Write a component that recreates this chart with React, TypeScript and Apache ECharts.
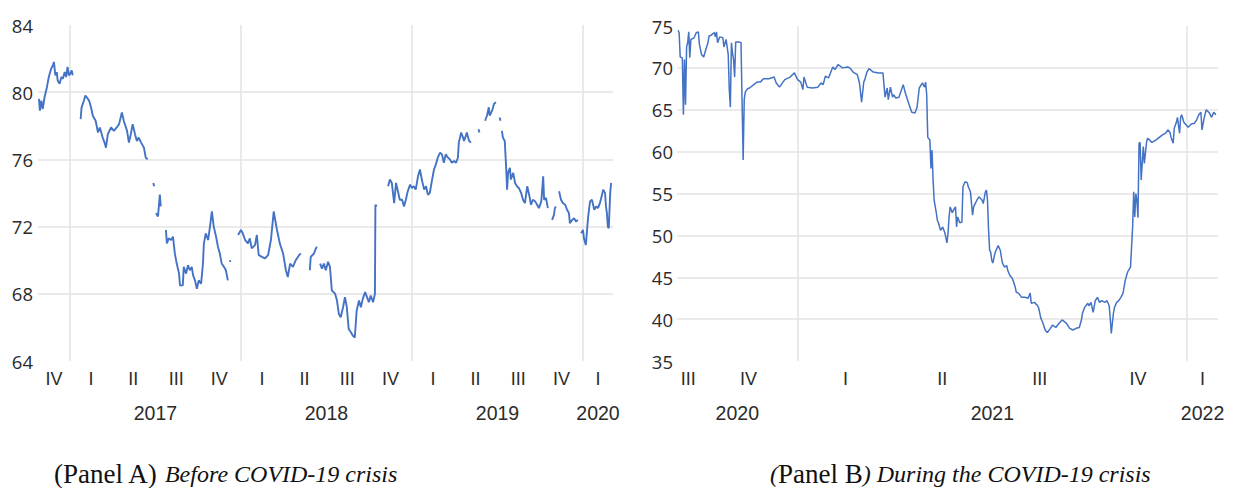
import React, { useEffect, useRef } from "react";
import * as echarts from "echarts";

// ---------- Panel A : before COVID-19 (segments of the daily line, gaps between them) ----------
const segA1: [string, number][] = [
  ["2016-10-27", 79.6], ["2016-10-29", 78.9], ["2016-11-01", 79.5], ["2016-11-04", 79.0], ["2016-11-08", 79.7],
  ["2016-11-13", 80.3], ["2016-11-17", 80.9], ["2016-11-22", 81.4], ["2016-11-26", 81.6], ["2016-11-28", 81.8],
  ["2016-12-01", 81.0], ["2016-12-04", 81.2], ["2016-12-06", 80.7], ["2016-12-10", 80.5], ["2016-12-14", 80.9],
  ["2016-12-17", 80.8], ["2016-12-21", 81.2], ["2016-12-24", 80.9], ["2016-12-27", 81.5], ["2016-12-30", 81.0],
  ["2017-01-02", 81.1], ["2017-01-05", 81.3], ["2017-01-07", 81.0],
];
const segA2: [string, number][] = [
  ["2017-01-24", 78.4], ["2017-01-26", 79.1], ["2017-01-31", 79.5], ["2017-02-03", 79.8], ["2017-02-06", 79.7],
  ["2017-02-11", 79.5], ["2017-02-15", 79.1], ["2017-02-19", 78.6], ["2017-02-25", 78.3], ["2017-03-02", 77.6],
  ["2017-03-06", 77.9], ["2017-03-12", 77.3], ["2017-03-16", 77.0], ["2017-03-19", 76.7], ["2017-03-23", 77.5],
  ["2017-03-30", 77.9], ["2017-04-05", 77.7], ["2017-04-11", 77.9], ["2017-04-16", 78.1], ["2017-04-22", 78.8],
  ["2017-04-26", 78.3], ["2017-05-03", 77.7], ["2017-05-07", 77.0], ["2017-05-11", 77.5], ["2017-05-15", 78.1],
  ["2017-05-20", 77.5], ["2017-05-24", 77.1], ["2017-05-28", 77.3], ["2017-06-02", 77.0], ["2017-06-08", 76.7],
  ["2017-06-12", 76.1], ["2017-06-16", 76.0],
];
const segA3: [string, number][] = [["2017-06-28", 74.6], ["2017-06-30", 74.4]];
const segA4: [string, number][] = [["2017-07-04", 72.8], ["2017-07-08", 72.6], ["2017-07-12", 73.9], ["2017-07-14", 73.2]];
const segA5: [string, number][] = [
  ["2017-07-25", 71.8], ["2017-07-27", 71.0], ["2017-07-31", 71.3], ["2017-08-05", 71.2], ["2017-08-09", 71.4],
  ["2017-08-13", 70.4], ["2017-08-17", 69.8], ["2017-08-22", 69.2], ["2017-08-24", 68.5], ["2017-08-30", 68.5],
  ["2017-09-01", 69.6], ["2017-09-06", 69.2], ["2017-09-10", 69.7], ["2017-09-14", 69.4], ["2017-09-18", 69.6],
  ["2017-09-21", 69.1], ["2017-09-25", 68.8], ["2017-09-29", 68.3], ["2017-10-03", 68.8], ["2017-10-08", 68.6],
  ["2017-10-12", 69.8], ["2017-10-14", 71.0], ["2017-10-18", 71.6], ["2017-10-23", 71.2], ["2017-10-27", 72.0],
  ["2017-10-31", 72.9], ["2017-11-04", 72.0], ["2017-11-09", 71.4], ["2017-11-13", 70.8], ["2017-11-17", 70.4],
  ["2017-11-21", 69.8], ["2017-11-26", 69.6], ["2017-11-30", 69.4], ["2017-12-04", 68.8],
];
const segA6: [string, number][] = [["2017-12-08", 69.9], ["2017-12-10", 70.0]];
const segA7: [string, number][] = [
  ["2017-12-26", 71.5], ["2018-01-01", 71.8], ["2018-01-05", 71.6], ["2018-01-10", 71.2], ["2018-01-16", 71.0],
  ["2018-01-20", 71.3], ["2018-01-24", 70.7], ["2018-01-31", 70.9], ["2018-02-04", 71.5], ["2018-02-08", 70.3],
  ["2018-02-15", 70.2], ["2018-02-21", 70.1], ["2018-02-28", 70.3], ["2018-03-06", 71.2], ["2018-03-12", 72.9],
  ["2018-03-19", 71.8], ["2018-03-25", 71.0], ["2018-04-01", 70.4], ["2018-04-07", 69.4], ["2018-04-11", 69.0],
  ["2018-04-16", 69.8], ["2018-04-22", 69.6], ["2018-04-28", 70.0], ["2018-05-05", 70.3], ["2018-05-09", 70.4],
];
const segA8: [string, number][] = [
  ["2018-05-28", 69.4], ["2018-05-30", 70.2], ["2018-06-06", 70.4], ["2018-06-10", 70.7], ["2018-06-12", 70.8],
];
const segA9: [string, number][] = [
  ["2018-06-19", 69.8], ["2018-06-23", 69.5], ["2018-06-27", 69.8], ["2018-07-01", 69.4], ["2018-07-06", 69.9],
  ["2018-07-10", 69.6], ["2018-07-14", 68.2], ["2018-07-21", 68.0], ["2018-07-25", 67.6], ["2018-07-29", 66.8],
  ["2018-08-02", 66.6], ["2018-08-07", 67.2], ["2018-08-11", 67.8], ["2018-08-15", 67.2], ["2018-08-19", 65.9],
  ["2018-08-24", 65.7], ["2018-08-28", 65.5], ["2018-09-01", 65.4], ["2018-09-05", 67.0], ["2018-09-10", 67.6],
  ["2018-09-14", 67.2], ["2018-09-18", 67.7], ["2018-09-23", 68.1], ["2018-09-27", 67.8], ["2018-10-01", 67.5],
  ["2018-10-05", 67.9], ["2018-10-10", 67.5], ["2018-10-14", 68.0], ["2018-10-15", 73.3], ["2018-10-18", 73.2],
];
const segA10: [string, number][] = [
  ["2018-11-11", 74.4], ["2018-11-15", 74.8], ["2018-11-19", 74.6], ["2018-11-24", 73.4], ["2018-11-28", 74.6],
  ["2018-12-02", 74.1], ["2018-12-06", 73.6], ["2018-12-11", 73.6], ["2018-12-15", 73.2], ["2018-12-19", 73.6],
  ["2018-12-23", 74.1], ["2018-12-28", 74.5], ["2019-01-01", 74.3], ["2019-01-05", 74.4], ["2019-01-09", 74.2],
  ["2019-01-14", 75.0], ["2019-01-18", 75.4], ["2019-01-22", 74.8], ["2019-01-27", 74.2], ["2019-01-31", 74.4],
  ["2019-02-04", 73.9], ["2019-02-08", 74.0], ["2019-02-13", 74.8], ["2019-02-17", 75.4], ["2019-02-21", 75.7],
  ["2019-02-25", 76.1], ["2019-03-02", 76.4], ["2019-03-06", 76.3], ["2019-03-10", 75.8], ["2019-03-14", 76.3],
  ["2019-03-19", 76.1], ["2019-03-23", 76.0], ["2019-03-27", 75.8], ["2019-04-01", 75.9], ["2019-04-05", 75.8],
  ["2019-04-09", 76.1], ["2019-04-11", 77.0], ["2019-04-16", 77.6], ["2019-04-20", 77.3], ["2019-04-22", 77.1],
  ["2019-04-26", 77.4], ["2019-04-28", 77.6], ["2019-05-03", 77.1], ["2019-05-07", 77.0],
];
const segA11: [string, number][] = [["2019-05-23", 77.8], ["2019-05-25", 77.6]];
const segA12: [string, number][] = [
  ["2019-06-06", 78.3], ["2019-06-10", 78.6], ["2019-06-14", 79.1], ["2019-06-16", 78.6], ["2019-06-21", 78.9],
  ["2019-06-25", 79.3], ["2019-06-29", 79.4],
];
const segA13: [string, number][] = [["2019-07-07", 78.5], ["2019-07-09", 78.3]];
const segA14: [string, number][] = [
  ["2019-07-12", 77.7], ["2019-07-14", 77.3], ["2019-07-18", 77.1], ["2019-07-21", 75.5], ["2019-07-23", 74.2],
  ["2019-07-25", 75.2], ["2019-07-29", 75.5], ["2019-07-31", 74.8], ["2019-08-05", 75.2], ["2019-08-09", 74.6],
  ["2019-08-13", 74.4], ["2019-08-17", 74.3], ["2019-08-22", 74.0], ["2019-08-26", 73.6], ["2019-08-30", 73.4],
  ["2019-09-04", 74.4], ["2019-09-08", 73.9], ["2019-09-12", 73.3], ["2019-09-16", 73.6], ["2019-09-21", 73.5],
  ["2019-09-25", 73.3], ["2019-09-29", 73.1], ["2019-10-04", 73.5], ["2019-10-08", 75.0], ["2019-10-10", 73.6],
  ["2019-10-14", 73.7], ["2019-10-18", 73.1],
];
const segA15: [string, number][] = [["2019-10-27", 72.4], ["2019-10-31", 72.7], ["2019-11-02", 73.1], ["2019-11-04", 73.2]];
const segA16: [string, number][] = [
  ["2019-11-11", 74.1], ["2019-11-15", 73.6], ["2019-11-19", 73.4], ["2019-11-24", 73.3], ["2019-11-28", 73.0],
  ["2019-12-02", 72.8], ["2019-12-04", 72.2], ["2019-12-09", 72.4], ["2019-12-13", 72.5], ["2019-12-17", 72.3],
  ["2019-12-21", 72.4],
];
const segA17: [string, number][] = [
  ["2019-12-28", 71.6], ["2020-01-01", 71.8], ["2020-01-03", 71.3], ["2020-01-07", 70.9], ["2020-01-12", 72.6],
  ["2020-01-16", 73.5], ["2020-01-20", 73.6], ["2020-01-25", 73.0], ["2020-01-29", 73.2], ["2020-02-02", 73.1],
  ["2020-02-06", 73.4], ["2020-02-08", 73.6], ["2020-02-13", 74.2], ["2020-02-17", 74.0], ["2020-02-19", 73.2],
  ["2020-02-21", 72.8], ["2020-02-23", 72.0], ["2020-02-25", 71.9], ["2020-02-28", 74.0], ["2020-03-01", 74.6],
];
// single isolated observations (drawn as small hollow markers)
const isolatedA: [string, number][] = [
  ["2017-06-21", 76.3], ["2017-06-25", 75.2], ["2017-12-15", 72.6], ["2018-11-04", 75.2],
  ["2019-05-11", 77.9], ["2019-05-28", 78.2], ["2019-07-04", 79.0],
];

// ---------- Panel B : during COVID-19 ----------
const ptsB2020: [string, number][] = [
  ["2020-09-11", 74.5], ["2020-09-12", 74.2], ["2020-09-13", 71.3], ["2020-09-15", 71.2], ["2020-09-16", 64.4],
  ["2020-09-17", 71.0], ["2020-09-18", 65.6], ["2020-09-19", 72.5], ["2020-09-20", 73.0], ["2020-09-21", 74.3],
  ["2020-09-22", 71.2], ["2020-09-23", 73.4], ["2020-09-25", 73.5], ["2020-09-26", 73.6], ["2020-09-28", 74.2],
  ["2020-09-30", 74.3], ["2020-10-01", 72.8], ["2020-10-03", 71.6], ["2020-10-05", 71.3], ["2020-10-07", 72.2],
  ["2020-10-09", 73.0], ["2020-10-10", 73.8], ["2020-10-12", 73.9], ["2020-10-15", 74.2], ["2020-10-16", 73.7],
  ["2020-10-17", 74.3], ["2020-10-18", 73.0], ["2020-10-20", 73.7], ["2020-10-23", 73.6], ["2020-10-24", 72.5],
  ["2020-10-26", 73.4], ["2020-10-28", 71.6], ["2020-10-29", 67.4], ["2020-10-30", 65.3], ["2020-10-31", 73.0],
  ["2020-11-01", 71.8], ["2020-11-02", 71.0], ["2020-11-03", 68.9], ["2020-11-04", 73.1], ["2020-11-05", 73.1],
  ["2020-11-07", 73.1], ["2020-11-09", 73.0], ["2020-11-10", 65.8], ["2020-11-11", 59.0], ["2020-11-12", 66.2],
  ["2020-11-13", 67.1], ["2020-11-15", 67.5], ["2020-11-17", 67.6], ["2020-11-21", 68.0], ["2020-11-24", 68.3],
  ["2020-11-27", 68.3], ["2020-11-30", 68.7], ["2020-12-05", 68.7], ["2020-12-10", 68.9], ["2020-12-12", 68.2],
  ["2020-12-15", 67.7], ["2020-12-20", 68.6], ["2020-12-25", 68.9], ["2020-12-29", 69.4],
];
const ptsB2021H1: [string, number][] = [
  ["2021-01-01", 68.6], ["2021-01-04", 68.3], ["2021-01-06", 67.4], ["2021-01-07", 68.9], ["2021-01-10", 67.7],
  ["2021-01-15", 67.6], ["2021-01-20", 67.7], ["2021-01-23", 68.2], ["2021-01-25", 68.0], ["2021-01-27", 69.0],
  ["2021-01-30", 68.8], ["2021-02-03", 70.1], ["2021-02-05", 69.8], ["2021-02-08", 70.4], ["2021-02-12", 70.0],
  ["2021-02-17", 70.1], ["2021-02-19", 70.0], ["2021-02-22", 69.5], ["2021-02-26", 69.2], ["2021-02-28", 68.2],
  ["2021-03-02", 65.9], ["2021-03-04", 68.3], ["2021-03-05", 68.6], ["2021-03-07", 69.5], ["2021-03-09", 69.9],
  ["2021-03-13", 69.5], ["2021-03-18", 69.4], ["2021-03-22", 69.4], ["2021-03-24", 66.5], ["2021-03-26", 67.6],
  ["2021-03-27", 66.2], ["2021-03-29", 67.7], ["2021-03-31", 66.5], ["2021-04-01", 66.8], ["2021-04-03", 66.4],
  ["2021-04-06", 66.5], ["2021-04-10", 68.0], ["2021-04-12", 67.0], ["2021-04-15", 65.8], ["2021-04-18", 64.7],
  ["2021-04-21", 64.6], ["2021-04-23", 65.3], ["2021-04-25", 67.6], ["2021-04-28", 68.2], ["2021-04-30", 67.7],
  ["2021-05-01", 68.3], ["2021-05-02", 66.8], ["2021-05-03", 61.7], ["2021-05-05", 61.4], ["2021-05-06", 58.0],
  ["2021-05-07", 60.2], ["2021-05-08", 56.6], ["2021-05-09", 54.2], ["2021-05-11", 52.7], ["2021-05-12", 51.8],
  ["2021-05-13", 51.5], ["2021-05-15", 50.6], ["2021-05-17", 51.0], ["2021-05-19", 50.3], ["2021-05-21", 49.1],
  ["2021-05-22", 50.3], ["2021-05-23", 52.2], ["2021-05-24", 53.4], ["2021-05-26", 52.7], ["2021-05-27", 53.0],
  ["2021-05-29", 53.4], ["2021-05-30", 51.0], ["2021-05-31", 52.2], ["2021-06-02", 51.5], ["2021-06-04", 51.6],
  ["2021-06-05", 55.8], ["2021-06-07", 56.4], ["2021-06-09", 56.3], ["2021-06-10", 55.8], ["2021-06-12", 55.2],
  ["2021-06-13", 53.8], ["2021-06-14", 52.4], ["2021-06-15", 53.4], ["2021-06-18", 54.2], ["2021-06-20", 54.6],
  ["2021-06-23", 54.2], ["2021-06-24", 53.8], ["2021-06-26", 55.2], ["2021-06-27", 55.4], ["2021-06-28", 54.2],
  ["2021-06-29", 50.6], ["2021-06-30", 48.2],
];
const ptsB2021H2: [string, number][] = [
  ["2021-07-01", 48.0], ["2021-07-02", 47.0], ["2021-07-03", 46.7], ["2021-07-05", 47.9], ["2021-07-07", 48.5],
  ["2021-07-08", 48.8], ["2021-07-10", 48.2], ["2021-07-11", 47.4], ["2021-07-12", 46.7], ["2021-07-14", 46.2],
  ["2021-07-16", 46.4], ["2021-07-17", 45.8], ["2021-07-19", 45.2], ["2021-07-21", 44.9], ["2021-07-22", 44.6],
  ["2021-07-24", 43.8], ["2021-07-25", 43.2], ["2021-07-27", 43.1], ["2021-07-30", 42.6], ["2021-08-02", 42.6],
  ["2021-08-05", 42.5], ["2021-08-07", 43.1], ["2021-08-08", 41.9], ["2021-08-11", 42.0], ["2021-08-14", 41.6],
  ["2021-08-15", 41.3], ["2021-08-17", 40.1], ["2021-08-19", 39.5], ["2021-08-21", 38.7], ["2021-08-23", 38.4],
  ["2021-08-26", 38.9], ["2021-08-28", 39.3], ["2021-08-31", 39.0], ["2021-09-03", 39.5], ["2021-09-06", 39.9],
  ["2021-09-10", 39.5], ["2021-09-13", 38.9], ["2021-09-16", 38.7], ["2021-09-19", 38.9], ["2021-09-22", 39.0],
  ["2021-09-24", 39.9], ["2021-09-25", 40.7], ["2021-09-27", 41.4], ["2021-09-30", 41.9], ["2021-10-01", 41.6],
  ["2021-10-03", 42.0], ["2021-10-05", 40.8], ["2021-10-07", 42.2], ["2021-10-09", 42.6], ["2021-10-11", 42.0],
  ["2021-10-13", 42.2], ["2021-10-16", 42.0], ["2021-10-18", 42.2], ["2021-10-20", 41.6], ["2021-10-21", 40.1],
  ["2021-10-22", 38.3], ["2021-10-24", 40.7], ["2021-10-25", 41.4], ["2021-10-27", 42.0], ["2021-10-29", 42.2],
  ["2021-10-31", 42.6], ["2021-11-02", 43.1], ["2021-11-04", 44.6], ["2021-11-06", 45.5], ["2021-11-07", 45.8],
  ["2021-11-09", 46.2], ["2021-11-10", 48.6], ["2021-11-11", 51.0], ["2021-11-12", 55.2], ["2021-11-13", 52.2],
  ["2021-11-14", 55.0], ["2021-11-15", 54.2], ["2021-11-16", 52.1], ["2021-11-17", 61.0], ["2021-11-18", 61.1],
  ["2021-11-19", 56.6], ["2021-11-21", 60.6], ["2021-11-22", 58.6], ["2021-11-24", 61.1], ["2021-11-25", 61.6],
  ["2021-11-27", 61.4], ["2021-11-29", 61.1], ["2021-12-03", 61.4], ["2021-12-06", 61.7], ["2021-12-09", 62.0],
  ["2021-12-12", 62.2], ["2021-12-14", 62.6], ["2021-12-16", 62.3], ["2021-12-17", 61.7], ["2021-12-19", 61.0],
  ["2021-12-20", 62.8], ["2021-12-22", 63.5], ["2021-12-23", 64.1], ["2021-12-25", 62.2], ["2021-12-26", 64.1],
  ["2021-12-27", 64.4], ["2021-12-29", 63.5], ["2021-12-31", 63.2],
];
const ptsB2022: [string, number][] = [
  ["2022-01-02", 62.9], ["2022-01-05", 63.3], ["2022-01-08", 63.4], ["2022-01-10", 63.8], ["2022-01-12", 64.4],
  ["2022-01-14", 64.7], ["2022-01-15", 62.6], ["2022-01-17", 64.0], ["2022-01-19", 65.0], ["2022-01-22", 64.6],
  ["2022-01-24", 64.1], ["2022-01-26", 64.7], ["2022-01-28", 64.4],
];

// ---------- axes ----------
const rangeA: [string, string] = ["2016-10-25", "2020-03-05"];
const rangeB: [string, string] = ["2020-09-10", "2022-01-30"];
const quarterNames = ["I", "II", "III", "IV"];
const yearLabelsA = ["2017", "2018", "2019", "2020"];
const yearLabelsB = ["2020", "2021", "2022"];
const yTicksA = { min: 64, max: 84, interval: 4 };
const yTicksB = { min: 35, max: 75, interval: 5 };
const captionA = { head: "(Panel A)", tail: "Before COVID-19 crisis" };
const captionB = { head: "Panel B", tail: ") During the COVID-19 crisis" };

const t = (d: string) => Date.parse(d);

function joinSegments(segs: [string, number][][]) {
  const out: any[] = [];
  segs.forEach((s, i) => {
    s.forEach(([d, v]) => out.push([t(d), v]));
    if (i < segs.length - 1) {
      const a = t(s[s.length - 1][0]);
      const b = t(segs[i + 1][0][0]);
      out.push([(a + b) / 2, "-"]);
    }
  });
  return out;
}

function quarterMarks(range: [string, string]) {
  const lo = t(range[0]);
  const hi = t(range[1]);
  const vals: number[] = [];
  const labels = new Map<number, string>();
  const y0 = new Date(lo).getUTCFullYear();
  const y1 = new Date(hi).getUTCFullYear();
  for (let y = y0; y <= y1; y++) {
    for (let q = 0; q < 4; q++) {
      const s = Date.UTC(y, q * 3, 1);
      const e = Date.UTC(q === 3 ? y + 1 : y, q === 3 ? 0 : q * 3 + 3, 1);
      const a = Math.max(s, lo);
      const b = Math.min(e, hi);
      if (b > a) {
        const m = (a + b) / 2;
        vals.push(m);
        labels.set(m, quarterNames[q]);
      }
    }
  }
  return { vals, labels };
}

function yearMarks(range: [string, string], names: string[]) {
  const lo = t(range[0]);
  const hi = t(range[1]);
  const vals: number[] = [];
  const labels = new Map<number, string>();
  const bounds: number[] = [];
  names.forEach((n) => {
    const y = Number(n);
    const s = Date.UTC(y, 0, 1);
    const e = Date.UTC(y + 1, 0, 1);
    const m = (Math.max(s, lo) + Math.min(e, hi)) / 2;
    vals.push(m);
    labels.set(m, n);
  });
  const y0 = new Date(lo).getUTCFullYear();
  const y1 = new Date(hi).getUTCFullYear();
  for (let y = y0 + 1; y <= y1; y++) bounds.push(Date.UTC(y, 0, 1));
  return { vals, labels, bounds };
}

const BLUE = "#4472c4";
const GRID_COLOR = "#e3e3e3";
const LABEL_COLOR = "#2b2b2b";

export default function App() {
  const ref = useRef<HTMLDivElement>(null);

  useEffect(() => {
    if (!ref.current) return;
    const chart = echarts.init(ref.current, undefined, { renderer: "svg" });

    const qA = quarterMarks(rangeA);
    const qB = quarterMarks(rangeB);
    const yA = yearMarks(rangeA, yearLabelsA);
    const yB = yearMarks(rangeB, yearLabelsB);

    const gridLine = { show: true, lineStyle: { color: GRID_COLOR, width: 1.5 } };

    const mkX = (grid: number, range: [string, string], q: any, y: any) => [
      {
        type: "value",
        gridIndex: grid,
        position: "bottom",
        min: t(range[0]),
        max: t(range[1]),
        axisLine: { show: false },
        axisTick: { show: false, customValues: y.bounds },
        splitLine: gridLine,
        axisLabel: {
          customValues: q.vals,
          formatter: (v: number) => q.labels.get(v) ?? "",
          fontFamily: "Liberation Sans",
          fontSize: 18,
          color: LABEL_COLOR,
          margin: 9,
        },
      },
      {
        type: "value",
        gridIndex: grid,
        position: "bottom",
        min: t(range[0]),
        max: t(range[1]),
        offset: 34,
        axisLine: { show: false },
        axisTick: { show: false },
        splitLine: { show: false },
        axisLabel: {
          customValues: y.vals,
          formatter: (v: number) => y.labels.get(v) ?? "",
          fontFamily: "Liberation Sans",
          fontSize: 19.5,
          color: LABEL_COLOR,
          margin: 8,
        },
      },
    ];

    const mkY = (grid: number, ticks: any, margin: number) => ({
      type: "value",
      gridIndex: grid,
      min: ticks.min,
      max: ticks.max,
      interval: ticks.interval,
      axisLine: { show: false },
      axisTick: { show: false },
      splitLine: { ...gridLine, showMinLine: false, showMaxLine: false },
      axisLabel: {
        fontFamily: "Open Sans",
        fontSize: 18.5,
        color: LABEL_COLOR,
        margin,
        padding: [0, 0, 7, 0],
      },
    });

    chart.setOption({
      animation: false,
      backgroundColor: "#ffffff",
      grid: [
        { left: 38, top: 25, width: 575, height: 336, outerBoundsMode: "none" },
        { left: 677, top: 26, width: 541, height: 335, outerBoundsMode: "none" },
      ],
      xAxis: [...mkX(0, rangeA, qA, yA), ...mkX(1, rangeB, qB, yB)],
      yAxis: [mkY(0, yTicksA, 5), mkY(1, yTicksB, 4)],
      series: [
        {
          type: "line",
          xAxisIndex: 0,
          yAxisIndex: 0,
          data: joinSegments([
            segA1, segA2, segA3, segA4, segA5, segA6, segA7, segA8, segA9,
            segA10, segA11, segA12, segA13, segA14, segA15, segA16, segA17,
          ]),
          showSymbol: false,
          connectNulls: false,
          lineStyle: { color: BLUE, width: 1.9 },
          itemStyle: { color: BLUE },
          z: 3,
        },
        {
          type: "scatter",
          xAxisIndex: 0,
          yAxisIndex: 0,
          data: isolatedA.map(([d, v]) => [t(d), v]),
          symbol: "emptyCircle",
          symbolSize: 4,
          itemStyle: { color: "#ffffff", borderColor: BLUE, borderWidth: 1 },
          z: 3,
        },
        {
          type: "line",
          xAxisIndex: 2,
          yAxisIndex: 1,
          data: [...ptsB2020, ...ptsB2021H1, ...ptsB2021H2, ...ptsB2022].map(([d, v]) => [t(d), v]),
          showSymbol: false,
          lineStyle: { color: BLUE, width: 1.5 },
          itemStyle: { color: BLUE },
          z: 3,
        },
      ],
      graphic: [
        {
          type: "text",
          x: 54,
          y: 474,
          style: {
            text: `{a|${captionA.head}} {b|${captionA.tail}}`,
            fontFamily: "Liberation Serif",
            fontSize: 27,
            fill: "#111",
            verticalAlign: "middle",
            align: "left",
            rich: {
              a: { fontFamily: "Liberation Serif", fontSize: 27, fill: "#111" },
              b: { fontFamily: "Liberation Serif", fontStyle: "italic", fontSize: 24, fill: "#111" },
            },
          },
        },
        {
          type: "text",
          x: 770,
          y: 474,
          style: {
            text: `{b|(}{a|${captionB.head}}{b|${captionB.tail}}`,
            fontFamily: "Liberation Serif",
            fontSize: 27,
            fill: "#111",
            verticalAlign: "middle",
            align: "left",
            rich: {
              a: { fontFamily: "Liberation Serif", fontSize: 27, fill: "#111" },
              b: { fontFamily: "Liberation Serif", fontStyle: "italic", fontSize: 24, fill: "#111" },
            },
          },
        },
      ],
    });

    return () => chart.dispose();
  }, []);

  return (
    <div
      ref={ref}
      style={{ position: "absolute", left: 0, top: 0, width: 1235, height: 488, background: "#fff" }}
    />
  );
}
